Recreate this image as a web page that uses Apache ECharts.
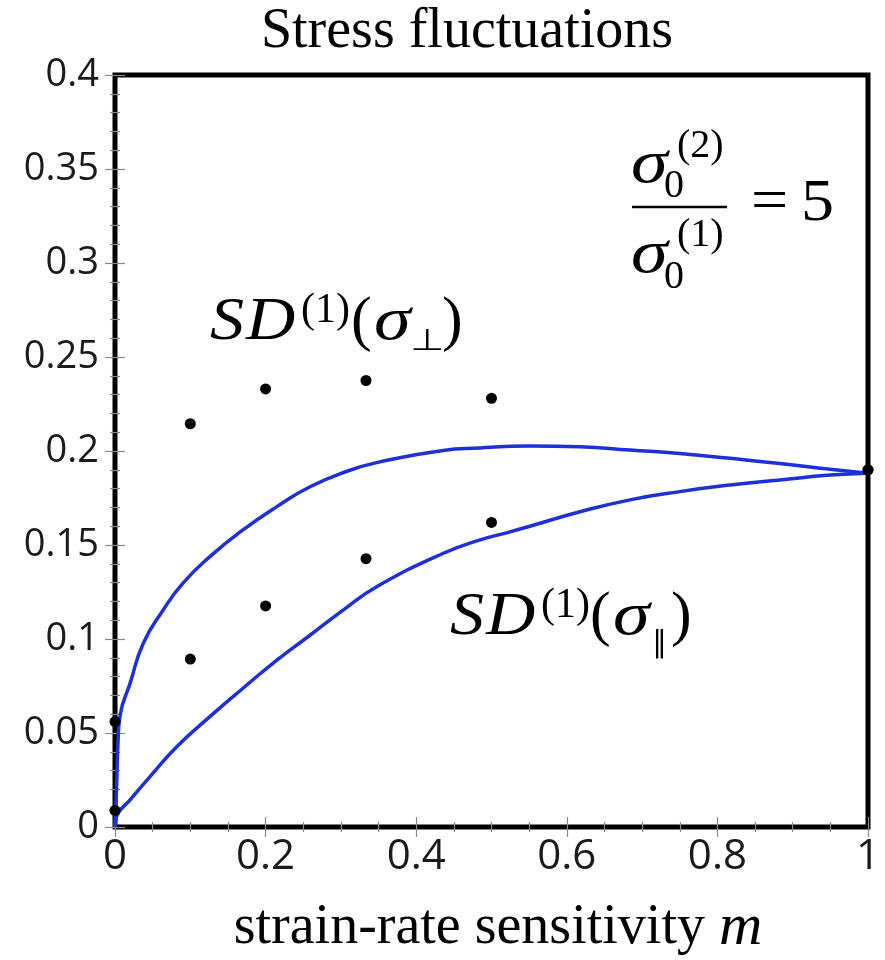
<!DOCTYPE html>
<html>
<head>
<meta charset="utf-8">
<script src="https://cdn.jsdelivr.net/npm/echarts@6/dist/echarts.min.js"></script>
<style>
  html, body { margin: 0; padding: 0; background: #fff; }
  #chart { width: 885px; height: 960px; }
</style>
</head>
<body>
<div id="chart"></div>
<script>
// Model curves: standard deviation of stress vs strain-rate sensitivity m
const mPerpCurve  = [0, 0.002, 0.004, 0.0066, 0.02, 0.0376, 0.064, 0.09, 0.126, 0.17, 0.215, 0.259, 0.31, 0.3475, 0.436, 0.485, 0.5246, 0.551, 0.6175, 0.684, 0.75, 0.817, 0.883, 0.95, 1.0];
const sdPerpCurve = [0, 0.02, 0.045, 0.059, 0.0764, 0.0977, 0.1154, 0.1296, 0.1438, 0.158, 0.1704, 0.181, 0.1895, 0.1938, 0.2003, 0.2016, 0.2025, 0.2027, 0.2023, 0.2005, 0.1987, 0.1961, 0.1934, 0.1903, 0.1882];

const mParCurve  = [0, 0.002, 0.02, 0.0465, 0.082, 0.126, 0.17, 0.215, 0.259, 0.303, 0.3475, 0.436, 0.485, 0.5246, 0.551, 0.6175, 0.684, 0.75, 0.817, 0.883, 0.95, 1.0];
const sdParCurve = [0, 0.0055, 0.0144, 0.0268, 0.0427, 0.0587, 0.0738, 0.0888, 0.102, 0.1154, 0.1278, 0.1456, 0.1527, 0.157, 0.160, 0.1677, 0.174, 0.1784, 0.1819, 0.1846, 0.1872, 0.1882];

// Full-field simulation results
const mSim    = [0, 0.1, 0.2, 1 / 3, 0.5, 1];
const perpSim = [0.056, 0.2145, 0.233, 0.2375, 0.228, 0.19];
const parSim  = [0.0088, 0.0893, 0.1176, 0.1427, 0.162, 0.19];

// Axis ticks
const xTickLabels = ['0', '0.2', '0.4', '0.6', '0.8', '1'];
const yTickLabels = ['0', '0.05', '0.1', '0.15', '0.2', '0.25', '0.3', '0.35', '0.4'];

const pairs = (xs, ys) => xs.map((x, i) => [x, ys[i]]);

const chart = echarts.init(document.getElementById('chart'), null, { renderer: 'canvas' });

const BLUE = '#1d31d8';
const SERIF = '"Liberation Serif", "DejaVu Serif", serif';
const SYM = '"DejaVu Sans", sans-serif';
const TICK = '#8a8a8a';

// Text placed by its left edge and alphabetic baseline (zrender draws with a 'middle' baseline);
// sx stretches the glyph horizontally about its left edge.
function glyph(x, baseline, text, size, italic, family, sx) {
  const fam = family || SERIF;
  return {
    type: 'text',
    silent: true,
    z: 100,
    x: x,
    y: baseline - 0.305 * size,
    scaleX: sx || 1,
    style: {
      text: text,
      x: 0,
      y: 0,
      font: (italic ? 'italic ' : '') + size + 'px ' + fam,
      fill: '#000',
      textAlign: 'left',
      textVerticalAlign: 'middle'
    }
  };
}

const graphics = [
  // Title
  {
    type: 'text', silent: true, z: 100,
    style: {
      text: 'Stress fluctuations',
      x: 467, y: 49 - 0.305 * 56,
      font: '56px ' + SERIF, fill: '#000',
      textAlign: 'center', textVerticalAlign: 'middle'
    }
  },
  // Axis name with italic symbol m
  {
    type: 'text', silent: true, z: 100,
    style: {
      text: '{n|strain-rate sensitivity }{i|m}',
      x: 498, y: 945 - 0.305 * 56,
      textAlign: 'center', textVerticalAlign: 'middle',
      rich: {
        n: { font: '56px ' + SERIF, fill: '#000' },
        i: { font: 'italic 60px ' + SERIF, fill: '#000' }
      }
    }
  },
  // SD^(1)(σ⊥)
  glyph(210, 342, 'S', 62, true, null, 1.1),
  glyph(246, 342, 'D', 62, true, null, 1.1),
  glyph(301, 324, '(1)', 42, false),
  glyph(351, 342, '(', 62, false),
  glyph(374, 342, 'σ', 62, true, null, 1.2),
  glyph(410, 351, '⊥', 30, false, SYM, 1.3),
  glyph(442, 342, ')', 62, false),
  // SD^(1)(σ∥)
  glyph(450, 637, 'S', 62, true, null, 1.1),
  glyph(486, 637, 'D', 62, true, null, 1.1),
  glyph(541, 619, '(1)', 42, false),
  glyph(590, 637, '(', 62, false),
  glyph(613, 637, 'σ', 62, true, null, 1.2),
  glyph(652, 653, '∥', 30, false, SYM),
  glyph(671, 637, ')', 62, false),
  // σ0^(2) / σ0^(1) = 5
  glyph(631, 185, 'σ', 62, true, null, 1.2),
  glyph(664, 199, '0', 40, false),
  glyph(677, 159, '(2)', 40, false),
  {
    type: 'line', silent: true, z: 100,
    shape: { x1: 632, y1: 207, x2: 727, y2: 207 },
    style: { stroke: '#000', lineWidth: 2.5 }
  },
  glyph(631, 275, 'σ', 62, true, null, 1.2),
  glyph(664, 290, '0', 40, false),
  glyph(677, 248, '(1)', 40, false),
  glyph(751, 222, '=', 60, false, null, 1.1),
  glyph(801, 223, '5', 60, false, null, 1.1)
];

const tickFont = '"Open Sans", "DejaVu Sans", sans-serif';

function tickAxis(common) {
  return Object.assign({
    axisLine: { show: false },
    axisTick: { show: true, inside: true, length: 10, lineStyle: { color: TICK, width: 1.2 } },
    splitLine: { show: false }
  }, common);
}

const option = {
  backgroundColor: '#fff',
  animation: false,
  grid: {
    left: 115, right: 17, top: 75, bottom: 133,
    show: true, borderColor: '#000', borderWidth: 5, backgroundColor: 'transparent'
  },
  xAxis: [
    tickAxis({
      type: 'value', min: 0, max: 1, interval: 0.2, position: 'bottom',
      minorTick: { show: true, splitNumber: 4, length: 5, lineStyle: { color: TICK, width: 1.2 } },
      axisLabel: {
        margin: 9, fontSize: 42, fontFamily: tickFont, color: '#1a1a1a',
        formatter: (v) => xTickLabels[Math.round(v / 0.2)]
      }
    }),
    tickAxis({
      type: 'value', min: 0, max: 1, interval: 0.2, position: 'top',
      minorTick: { show: true, splitNumber: 4, length: 5, lineStyle: { color: TICK, width: 1.2 } },
      axisLabel: { show: false }
    })
  ],
  yAxis: [
    tickAxis({
      type: 'value', min: 0, max: 0.4, interval: 0.05, position: 'left',
      minorTick: { show: true, splitNumber: 5, length: 5, lineStyle: { color: TICK, width: 1.2 } },
      axisLabel: {
        margin: 16, fontSize: 38, fontFamily: tickFont, color: '#1a1a1a',
        formatter: (v) => yTickLabels[Math.round(v / 0.05)]
      }
    }),
    tickAxis({
      type: 'value', min: 0, max: 0.4, interval: 0.05, position: 'right',
      minorTick: { show: true, splitNumber: 5, length: 5, lineStyle: { color: TICK, width: 1.2 } },
      axisLabel: { show: false }
    })
  ],
  series: [
    {
      name: 'SD perp model', type: 'line', xAxisIndex: 0, yAxisIndex: 0,
      data: pairs(mPerpCurve, sdPerpCurve),
      showSymbol: false, smooth: 0.5,
      lineStyle: { color: BLUE, width: 3.5 }, z: 3
    },
    {
      name: 'SD par model', type: 'line', xAxisIndex: 0, yAxisIndex: 0,
      data: pairs(mParCurve, sdParCurve),
      showSymbol: false, smooth: 0.5,
      lineStyle: { color: BLUE, width: 3.5 }, z: 3
    },
    {
      name: 'SD perp simulation', type: 'scatter', xAxisIndex: 0, yAxisIndex: 0,
      data: pairs(mSim, perpSim), symbol: 'circle', symbolSize: 11, clip: false,
      itemStyle: { color: '#000', opacity: 1 }, z: 5
    },
    {
      name: 'SD par simulation', type: 'scatter', xAxisIndex: 0, yAxisIndex: 0,
      data: pairs(mSim, parSim), symbol: 'circle', symbolSize: 11, clip: false,
      itemStyle: { color: '#000', opacity: 1 }, z: 5
    }
  ],
  graphic: graphics
};

chart.setOption(option);
</script>
</body>
</html>
